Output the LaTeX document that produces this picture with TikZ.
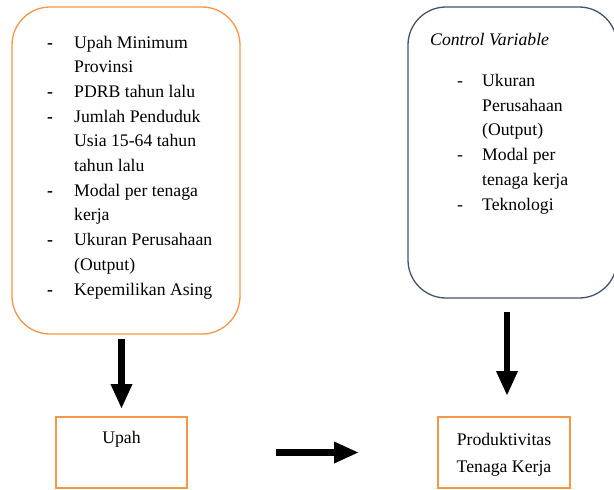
\documentclass[tikz,border=0pt]{standalone}
\usepackage{fontspec}
\setmainfont{Liberation Serif}
\usetikzlibrary{arrows.meta}
\definecolor{boxorange}{HTML}{F79646}
\definecolor{boxslate}{HTML}{44546A}
\tikzset{
  roundbox/.style={draw=#1, line width=1.3pt, rounded corners=38pt, inner sep=0pt},
  rectbox/.style={draw=boxorange, line width=2pt, inner sep=0pt},
  txt/.style={inner sep=0pt, align=left, font=\fontsize{17.7}{24.7}\selectfont},
  bigarrow/.style={line width=6.5pt, -{Triangle[width=20pt,length=25pt]}},
}
\newcommand{\itm}{\makebox[27pt][l]{\textbf{-}}}
\newcommand{\itmr}{\makebox[25pt][l]{-}}
\newcommand{\cont}[1]{\hspace*{#1}}
\begin{document}
\begin{tikzpicture}[x=1pt,y=-1pt]
\useasboundingbox (0,0) rectangle (614,490);
\fill[white] (0,0) rectangle (614,490);
% boxes
\node[roundbox=boxorange, minimum width=228pt, minimum height=327pt] (L) at (126,170.5) {};
\node[roundbox=boxslate, minimum width=209pt, minimum height=291pt] (R) at (512.5,152.5) {};
\node[rectbox, minimum width=131pt, minimum height=71pt] (U) at (121.5,452.5) {};
\node[rectbox, minimum width=132pt, minimum height=71pt] (P) at (504,452.5) {};
% texts (base anchor = baseline of the last line)
\node[txt, anchor=base west] (Lt) at (47,295) {%
\itm Upah Minimum\\
\cont{27pt}Provinsi\\
\itm PDRB tahun lalu\\
\itm Jumlah Penduduk\\
\cont{27pt}Usia 15-64 tahun\\
\cont{27pt}tahun lalu\\
\itm Modal per tenaga\\
\cont{27pt}kerja\\
\itm Ukuran Perusahaan\\
\cont{27pt}(Output)\\
\itm Kepemilikan Asing};
\node[txt, anchor=base west] (Rh) at (430,45) {\itshape Control Variable};
\node[txt, anchor=base west] (Rt) at (457,210) {%
\itmr Ukuran\\
\cont{25pt}Perusahaan\\
\cont{25pt}(Output)\\
\itmr Modal per\\
\cont{25pt}tenaga kerja\\
\itmr Teknologi};
\node[txt, anchor=base] (Ut) at (121.5,443) {Upah};
\node[txt, anchor=base, align=center, font=\fontsize{17.7}{27}\selectfont] (Pt) at (504,472) {Produktivitas\\Tenaga Kerja};
% arrows
\draw[bigarrow, shorten <=4pt, shorten >=7pt] (U.north |- L.south) -- (U.north);
\draw[bigarrow, shorten <=13pt, shorten >=20pt] ([xshift=3pt]P.north |- R.south) -- ([xshift=3pt]P.north);
\draw[bigarrow, shorten <=88pt, shorten >=78pt] (U.east) -- (P.west);
\end{tikzpicture}
\end{document}
